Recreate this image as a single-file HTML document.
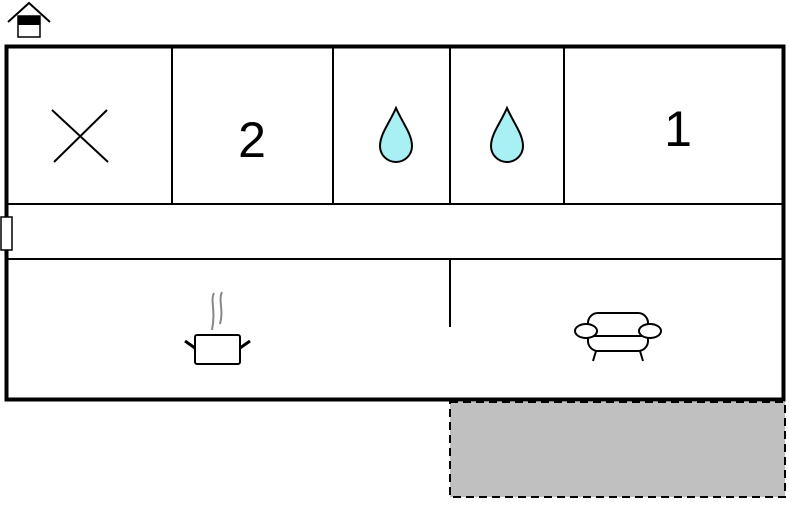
<!DOCTYPE html>
<html><head><style>html,body{margin:0;padding:0;background:#fff;}</style></head>
<body>
<svg width="789" height="500" viewBox="0 0 789 500" xmlns="http://www.w3.org/2000/svg">
<rect x="0" y="0" width="789" height="500" fill="#fff"/>
<rect x="450" y="402" width="335" height="95" fill="#c0c0c0" stroke="#000" stroke-width="2" stroke-dasharray="8,5"/>
<rect x="6.5" y="46.5" width="777" height="353" fill="#fff" stroke="#000" stroke-width="4"/>
<g stroke="#000" stroke-width="2" fill="none">
<line x1="8" y1="204" x2="782" y2="204"/>
<line x1="8" y1="259" x2="782" y2="259"/>
<line x1="172" y1="48" x2="172" y2="204"/>
<line x1="333" y1="48" x2="333" y2="204"/>
<line x1="450" y1="48" x2="450" y2="204"/>
<line x1="564" y1="48" x2="564" y2="204"/>
<line x1="450" y1="259" x2="450" y2="327"/>
<line x1="52" y1="110" x2="108" y2="162"/>
<line x1="107" y1="110" x2="54" y2="162"/>
</g>
<rect x="1" y="217" width="11" height="33" fill="#fff" stroke="#000" stroke-width="1.5"/>
<!-- home icon -->
<polyline points="8,22 29,3 50,22" fill="none" stroke="#000" stroke-width="2"/>
<rect x="18" y="16" width="22" height="21" fill="#fff" stroke="#000" stroke-width="1.5"/>
<rect x="18" y="16" width="22" height="9" fill="#000"/>
<text x="252" y="157" font-family="Liberation Sans, sans-serif" font-size="50" text-anchor="middle">2</text>
<text x="678" y="146" font-family="Liberation Sans, sans-serif" font-size="50" text-anchor="middle">1</text>
<path d="M396,108 C390,122 380,134 380,146 A16,16 0 0 0 412,146 C412,134 402,122 396,108 Z" fill="#a8f0f4" stroke="#000" stroke-width="2"/>
<path d="M507,108 C501,122 491,134 491,146 A16,16 0 0 0 523,146 C523,134 513,122 507,108 Z" fill="#a8f0f4" stroke="#000" stroke-width="2"/>
<!-- pot -->
<g stroke="#888" stroke-width="2" fill="none">
<path d="M214,293 C210,300 216,310 212,330"/>
<path d="M222,292 C218,300 224,310 220,324"/>
</g>
<rect x="195" y="335" width="45" height="29" rx="2" fill="#fff" stroke="#000" stroke-width="2"/>
<line x1="185" y1="341" x2="195" y2="348" stroke="#000" stroke-width="3"/>
<line x1="250" y1="341" x2="240" y2="348" stroke="#000" stroke-width="3"/>
<!-- sofa -->
<g stroke="#000" stroke-width="2" fill="#fff">
<rect x="588" y="313" width="60" height="38" rx="10"/>
<line x1="596" y1="351" x2="593" y2="361"/>
<line x1="640" y1="351" x2="643" y2="361"/>
<line x1="586" y1="336" x2="650" y2="336"/>
<ellipse cx="586" cy="331" rx="11" ry="7"/>
<ellipse cx="650" cy="331" rx="11" ry="7"/>
</g>
</svg>
</body></html>
